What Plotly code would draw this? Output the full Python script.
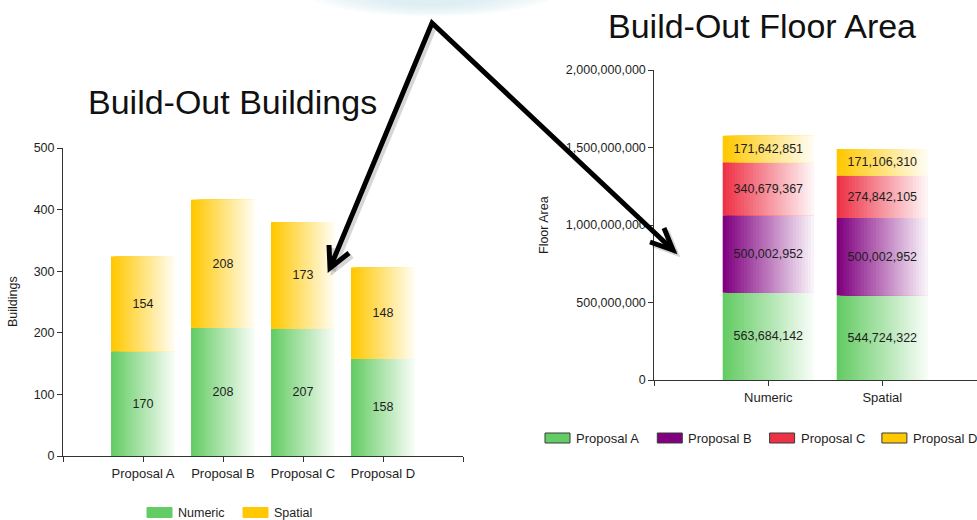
import plotly.graph_objects as go
import numpy as np

# ---------------- data ----------------
building_categories = ["Proposal A", "Proposal B", "Proposal C", "Proposal D"]
building_series = ["Numeric", "Spatial"]
buildings_numeric = [170, 208, 207, 158]
buildings_spatial = [154, 208, 173, 148]
building_ticks = [0, 100, 200, 300, 400, 500]

area_categories = ["Numeric", "Spatial"]
area_series = ["Proposal A", "Proposal B", "Proposal C", "Proposal D"]
area_proposal_a = [563684142, 544724322]
area_proposal_b = [500002952, 500002952]
area_proposal_c = [340679367, 274842105]
area_proposal_d = [171642851, 171106310]
area_ticks = [0, 500000000, 1000000000, 1500000000, 2000000000]

titles = ["Build-Out Buildings", "Build-Out Floor Area"]
axis_titles = ["Buildings", "Floor Area"]

# ---------------- style ----------------
W, H = 977, 520
FONT = "Liberation Sans"
TXT = "#1e1e1e"
AX = "#333333"
GREEN = (100, 204, 100)
YELLOW = (255, 200, 0)
PURPLE = (128, 0, 128)
RED = (238, 50, 70)
N = 30          # gradient slices
BW = 0.8        # bar width (category units)
NUM_SIZE = 12.5
WORD_SIZE = 13


def rgb(c):
    return "rgb(%d,%d,%d)" % tuple(int(round(v)) for v in c)


def shade(c, t):
    f = 0.95 * t
    return rgb([v + (255 - v) * f for v in c])


def px(x, y):
    return x / W, 1 - y / H


fig = go.Figure()


def add_stack(cats, series_vals, colors, xa, ya, fmt):
    idx = list(range(len(cats)))
    base = np.zeros(len(cats))
    for vals, col in zip(series_vals, colors):
        vals = np.asarray(vals, dtype=float)
        for k in range(N):
            off = -BW / 2 + k * BW / N
            wid = BW - k * BW / N
            fig.add_trace(go.Bar(
                x=idx, y=vals, base=base, offset=off, width=wid,
                marker=dict(color=shade(col, k / (N - 1)), line=dict(width=0)),
                xaxis=xa, yaxis=ya, showlegend=False, hoverinfo="skip"))
        fig.add_trace(go.Bar(
            x=idx, y=vals, base=base, offset=-BW / 2, width=BW,
            marker=dict(color="rgba(0,0,0,0)", line=dict(width=0)),
            text=[fmt(v) for v in vals], textposition="inside",
            insidetextanchor="middle", constraintext="none", textangle=0,
            insidetextfont=dict(family=FONT, size=NUM_SIZE, color=TXT),
            xaxis=xa, yaxis=ya, showlegend=False, hoverinfo="skip"))
        base = base + vals


add_stack(building_categories, [buildings_numeric, buildings_spatial],
          [GREEN, YELLOW], "x", "y", lambda v: "%d" % v)
add_stack(area_categories,
          [area_proposal_a, area_proposal_b, area_proposal_c, area_proposal_d],
          [GREEN, PURPLE, RED, YELLOW], "x2", "y2", lambda v: "{:,}".format(int(v)))

axis_common = dict(showgrid=False, zeroline=False, showline=True, linecolor=AX,
                   linewidth=1, ticks="outside", ticklen=5, tickcolor=AX,
                   automargin=False)
xfont = dict(family=FONT, size=WORD_SIZE, color=TXT)
yfont = dict(family=FONT, size=NUM_SIZE, color=TXT)

nb = len(building_categories)
na = len(area_categories)
fig.update_layout(
    template="none",
    width=W, height=H, margin=dict(l=0, r=0, t=0, b=0, pad=0, autoexpand=False),
    paper_bgcolor="white", plot_bgcolor="rgba(0,0,0,0)",
    barmode="overlay", showlegend=False,
    xaxis=dict(domain=[63 / W, 463 / W], range=[-1, nb], anchor="y",
               tickmode="array", tickvals=list(range(-1, nb + 1)),
               ticktext=[""] + building_categories + [""], tickfont=xfont, **axis_common),
    yaxis=dict(domain=[(H - 456) / H, (H - 148) / H], range=[0, 500], anchor="x",
               tickmode="array", tickvals=building_ticks, tickfont=yfont, **axis_common),
    xaxis2=dict(domain=[654.3 / W, 1], range=[-1, (W - 654.3) / 114 - 1], anchor="y2",
                tickmode="array", tickvals=list(range(-1, na + 1)),
                ticktext=[""] + area_categories + [""], tickfont=xfont, **axis_common),
    yaxis2=dict(domain=[(H - 380) / H, (H - 70) / H], range=[0, 2e9], anchor="x2",
                tickmode="array", tickvals=area_ticks,
                ticktext=["{:,}".format(v) for v in area_ticks], tickfont=yfont, **axis_common),
)

# titles
for text, (cx, cy) in zip(titles, [(232.5, 102.5), (761.5, 25.5)]):
    x, y = px(cx, cy)
    fig.add_annotation(x=x, y=y, xref="paper", yref="paper", text=text, showarrow=False,
                       xanchor="center", yanchor="middle",
                       font=dict(family=FONT, size=34, color="#111111"))

# axis titles
for text, (cx, cy) in zip(axis_titles, [(13, 302), (544, 225)]):
    x, y = px(cx, cy)
    fig.add_annotation(x=x, y=y, xref="paper", yref="paper", text=text, showarrow=False,
                       textangle=-90, xanchor="center", yanchor="middle",
                       font=dict(family=FONT, size=12.5, color=TXT))


# legends
def add_legend(names, colors, x0, yc, spacing, border, size):
    for i, (n, c) in enumerate(zip(names, colors)):
        bx = x0 + i * spacing
        a0, b0 = px(bx, yc + 5)
        a1, b1 = px(bx + 25, yc - 5)
        fig.add_shape(type="rect", xref="paper", yref="paper", x0=a0, x1=a1, y0=b0, y1=b1,
                      fillcolor=rgb(c),
                      line=dict(color="#3a3a3a" if border else rgb(c), width=1))
        tx, ty = px(bx + 30, yc)
        fig.add_annotation(x=tx, y=ty, xref="paper", yref="paper", text=n, showarrow=False,
                           xanchor="left", yanchor="middle", borderpad=0,
                           font=dict(family=FONT, size=size, color=TXT))


add_legend(building_series, [GREEN, YELLOW], 147, 512.5, 96, False, 12.5)
add_legend(area_series, [GREEN, PURPLE, RED, YELLOW], 545, 438, 112.3, True, WORD_SIZE)

# top glow (soft)
for i in range(8):
    x0, x1 = 300 + i * 9, 562 - i * 9
    y1 = 16 - i * 1.5
    a0, b0 = px(x0, y1)
    a1, b1 = px(x1, -40)
    fig.add_shape(type="circle", xref="paper", yref="paper", x0=a0, x1=a1, y0=b0, y1=b1,
                  fillcolor="rgba(205,228,238,0.13)", line=dict(width=0), layer="below")


# arrows
def path(pts, dx=0, dy=0):
    s = ""
    for i, (x, y) in enumerate(pts):
        a, b = px(x + dx, y + dy)
        s += ("M" if i == 0 else " L") + " %.5f,%.5f" % (a, b)
    return s


shaft = [(330, 268), (432, 23), (673, 250)]
head_l = [(329, 245), (330, 268), (349, 253)]
head_r = [(650, 242), (673, 250), (664, 228)]
for pts in (shaft, head_l, head_r):
    fig.add_shape(type="path", xref="paper", yref="paper", path=path(pts, 3, 3),
                  line=dict(color="rgba(0,0,0,0.16)", width=5), layer="above")
for pts in (shaft, head_l, head_r):
    fig.add_shape(type="path", xref="paper", yref="paper", path=path(pts),
                  line=dict(color="black", width=5), layer="above")

fig.write_html("out.html", config={"displayModeBar": False},
               post_script="document.body.style.margin='0';document.body.style.overflow='hidden';")
